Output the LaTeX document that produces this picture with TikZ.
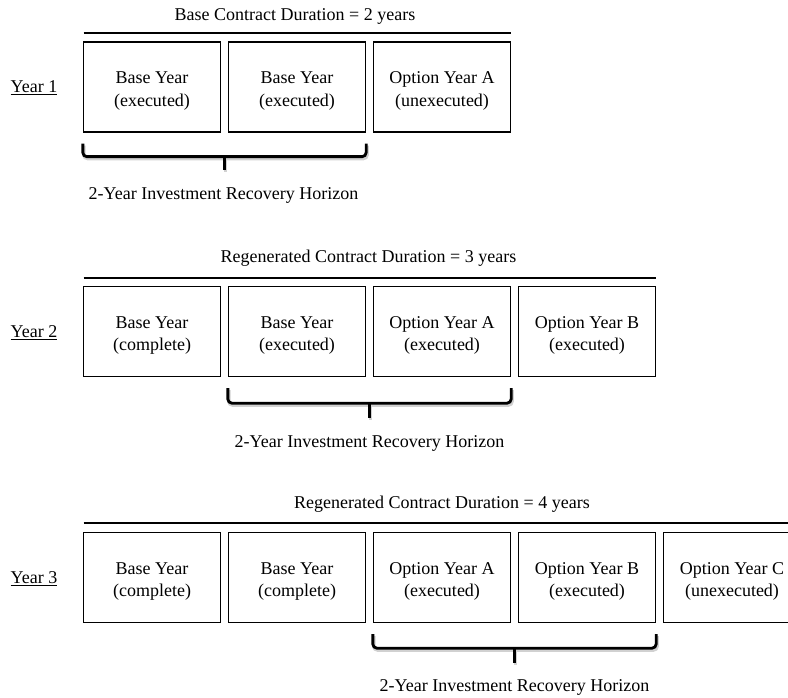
\documentclass[tikz,border=0pt]{standalone}
\usepackage{fontspec}
\setmainfont{Liberation Serif}
\usetikzlibrary{calc}
\begin{document}
\begin{tikzpicture}[x=1pt,y=-1pt,
  yearbox/.style={draw=black,line width=1.3pt,minimum width=137pt,minimum height=90pt,inner sep=0pt},
  boxtext/.style={align=center,font=\fontsize{18}{22.5}\selectfont,inner sep=0pt,yshift=-4pt},
  lbl/.style={font=\fontsize{18}{22}\selectfont,inner sep=0pt},
  topline/.style={line width=2pt},
  bracestyle/.style={line width=2.8pt,rounded corners=4pt},
  shadowstyle/.style={line width=3.5pt,rounded corners=4pt,draw=black!18}]
\useasboundingbox (0,0) rectangle (788,698);
\clip (0,0) rectangle (788,698);
% ---------- Row 1 ----------
\node[yearbox,label={[boxtext]center:{Base Year\\(executed)}}] (a1) at (152,87) {};
\node[yearbox,label={[boxtext]center:{Base Year\\(executed)}}] (a2) at (297,87) {};
\node[yearbox,label={[boxtext]center:{Option Year A\\(unexecuted)}}] (a3) at (442,87) {};
\node[lbl] (y1) at (34,88) {\underline{Year 1}};
\coordinate (l1s) at (83.5,33);
\coordinate (l1e) at (510.5,33);
\draw[topline] (l1s) -- (l1e);
\node[lbl] (t1) at (295,16) {Base Contract Duration = 2 years};
\coordinate (b1l) at (a1.south west);
\coordinate (b1r) at (a2.south east);
\draw[shadowstyle] ([xshift=1pt,yshift=-13pt]b1l) -- ([xshift=1pt,yshift=-26pt]b1l) -- ([xshift=1pt,yshift=-26pt]b1r) -- ([xshift=1pt,yshift=-13pt]b1r);
\draw[shadowstyle] ([xshift=1pt,yshift=-26pt]$(b1l)!0.5!(b1r)$) -- ([xshift=1pt,yshift=-39pt]$(b1l)!0.5!(b1r)$);
\draw[bracestyle] ([yshift=-11pt]b1l) -- ([yshift=-24pt]b1l) -- ([yshift=-24pt]b1r) -- ([yshift=-11pt]b1r);
\draw[line width=2.8pt] ([yshift=-24pt]$(b1l)!0.5!(b1r)$) -- ([yshift=-37pt]$(b1l)!0.5!(b1r)$);
\node[lbl] (h1) at (223.5,195) {2-Year Investment Recovery Horizon};
% ---------- Row 2 ----------
\node[yearbox,label={[boxtext]center:{Base Year\\(complete)}}] (b1) at (152,331.5) {};
\node[yearbox,label={[boxtext]center:{Base Year\\(executed)}}] (b2) at (297,331.5) {};
\node[yearbox,label={[boxtext]center:{Option Year A\\(executed)}}] (b3) at (442,331.5) {};
\node[yearbox,label={[boxtext]center:{Option Year B\\(executed)}}] (b4) at (587,331.5) {};
\node[lbl] (y2) at (34,333) {\underline{Year 2}};
\coordinate (l2s) at (83.5,278);
\coordinate (l2e) at (655.5,278);
\draw[topline] (l2s) -- (l2e);
\node[lbl] (t2) at (368.5,258) {Regenerated Contract Duration = 3 years};
\coordinate (b2l) at (b2.south west);
\coordinate (b2r) at (b3.south east);
\draw[shadowstyle] ([xshift=1pt,yshift=-13pt]b2l) -- ([xshift=1pt,yshift=-28pt]b2l) -- ([xshift=1pt,yshift=-28pt]b2r) -- ([xshift=1pt,yshift=-13pt]b2r);
\draw[shadowstyle] ([xshift=1pt,yshift=-28pt]$(b2l)!0.5!(b2r)$) -- ([xshift=1pt,yshift=-43pt]$(b2l)!0.5!(b2r)$);
\draw[bracestyle] ([yshift=-11pt]b2l) -- ([yshift=-26pt]b2l) -- ([yshift=-26pt]b2r) -- ([yshift=-11pt]b2r);
\draw[line width=2.8pt] ([yshift=-26pt]$(b2l)!0.5!(b2r)$) -- ([yshift=-41pt]$(b2l)!0.5!(b2r)$);
\node[lbl] (h2) at (369.5,443) {2-Year Investment Recovery Horizon};
% ---------- Row 3 ----------
\node[yearbox,label={[boxtext]center:{Base Year\\(complete)}}] (c1) at (152,577.5) {};
\node[yearbox,label={[boxtext]center:{Base Year\\(complete)}}] (c2) at (297,577.5) {};
\node[yearbox,label={[boxtext]center:{Option Year A\\(executed)}}] (c3) at (442,577.5) {};
\node[yearbox,label={[boxtext]center:{Option Year B\\(executed)}}] (c4) at (587,577.5) {};
\node[yearbox,label={[boxtext]center:{Option Year C\\(unexecuted)}}] (c5) at (732,577.5) {};
\node[lbl] (y3) at (34,579) {\underline{Year 3}};
\coordinate (l3s) at (83.5,523);
\coordinate (l3e) at (800.5,523);
\draw[topline] (l3s) -- (l3e);
\node[lbl] (t3) at (442,504) {Regenerated Contract Duration = 4 years};
\coordinate (b3l) at (c3.south west);
\coordinate (b3r) at (c4.south east);
\draw[shadowstyle] ([xshift=1pt,yshift=-13pt]b3l) -- ([xshift=1pt,yshift=-27pt]b3l) -- ([xshift=1pt,yshift=-27pt]b3r) -- ([xshift=1pt,yshift=-13pt]b3r);
\draw[shadowstyle] ([xshift=1pt,yshift=-27pt]$(b3l)!0.5!(b3r)$) -- ([xshift=1pt,yshift=-42pt]$(b3l)!0.5!(b3r)$);
\draw[bracestyle] ([yshift=-11pt]b3l) -- ([yshift=-25pt]b3l) -- ([yshift=-25pt]b3r) -- ([yshift=-11pt]b3r);
\draw[line width=2.8pt] ([yshift=-25pt]$(b3l)!0.5!(b3r)$) -- ([yshift=-40pt]$(b3l)!0.5!(b3r)$);
\node[lbl] (h3) at (514.5,687.5) {2-Year Investment Recovery Horizon};
\end{tikzpicture}
\end{document}
